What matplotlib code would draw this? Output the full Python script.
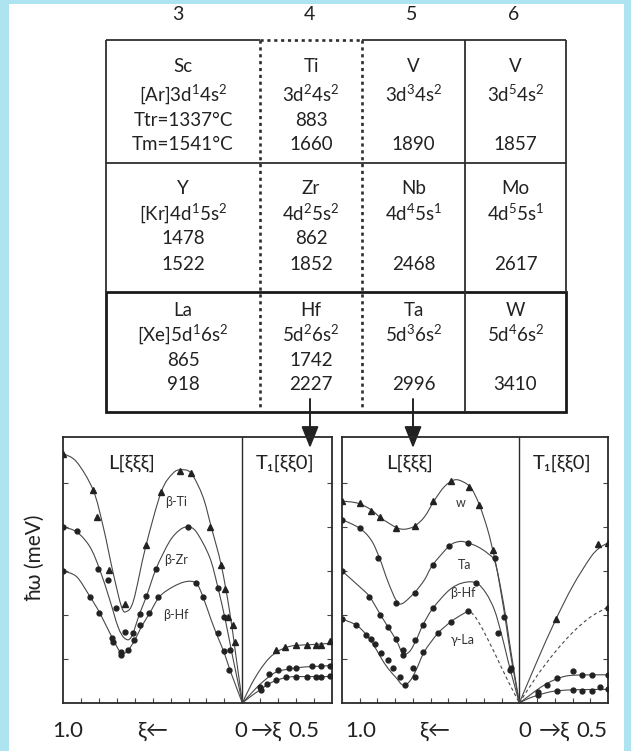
import numpy as np
import matplotlib
matplotlib.use("Agg")
import matplotlib.pyplot as plt
from matplotlib.path import Path
from matplotlib.patches import PathPatch, Rectangle

plt.rcParams['font.family'] = ['Lato', 'DejaVu Sans']
plt.rcParams['mathtext.fontset'] = 'custom'
plt.rcParams['mathtext.rm'] = 'Lato'
plt.rcParams['mathtext.it'] = 'Lato:italic'
plt.rcParams['mathtext.bf'] = 'Lato:bold'

# ---- table of group 3-6 transition metals ----
GROUPS = ['3', '4', '5', '6']
SYMBOLS = [['Sc', 'Ti', 'V', 'V'],
           ['Y', 'Zr', 'Nb', 'Mo'],
           ['La', 'Hf', 'Ta', 'W']]
CONFIGS = [['[Ar]3d$^1$4s$^2$', '3d$^2$4s$^2$', '3d$^3$4s$^2$', '3d$^5$4s$^2$'],
           ['[Kr]4d$^1$5s$^2$', '4d$^2$5s$^2$', '4d$^4$5s$^1$', '4d$^5$5s$^1$'],
           ['[Xe]5d$^1$6s$^2$', '5d$^2$6s$^2$', '5d$^3$6s$^2$', '5d$^4$6s$^2$']]
T_TRANS = [['Ttr=1337°C', '883', '', ''],
           ['1478', '862', '', ''],
           ['865', '1742', '', '']]
T_MELT = [['Tm=1541°C', '1660', '1890', '1857'],
          ['1522', '1852', '2468', '2617'],
          ['918', '2227', '2996', '3410']]

# ---- L[xxx] branches, left panel (beta-Ti, beta-Zr, beta-Hf) ----
TI_XI = [1.0, 0.924, 0.832, 0.776, 0.72, 0.674, 0.646, 0.606, 0.539, 0.452, 0.387, 0.341, 0.285, 0.22, 0.174, 0.118, 0.072, 0.035, 0.0]
TI_E = [5.67, 5.48, 4.84, 4.01, 2.95, 2.19, 2.08, 2.34, 3.55, 4.80, 5.22, 5.30, 5.22, 4.69, 4.01, 3.14, 2.11, 1.05, 0.0]
TI_PT_XI = [1.0, 0.832, 0.813, 0.743, 0.656, 0.539, 0.452, 0.35, 0.285, 0.183, 0.118, 0.096, 0.081, 0.054, 0.041]
TI_PT_E = [5.67, 4.84, 4.23, 3.02, 2.26, 3.59, 4.80, 5.28, 5.22, 4.01, 3.14, 2.59, 1.96, 1.77, 1.39]

ZR_XI = [1.0, 0.924, 0.85, 0.794, 0.739, 0.693, 0.656, 0.619, 0.572, 0.535, 0.48, 0.406, 0.35, 0.304, 0.257, 0.183, 0.137, 0.091, 0.054, 0.0]
ZR_E = [4.0, 3.89, 3.55, 3.02, 2.34, 1.73, 1.47, 1.5, 2.04, 2.42, 3.06, 3.67, 3.93, 4.0, 3.89, 3.32, 2.64, 1.81, 1.05, 0.0]
ZR_PT_XI = [1.0, 0.924, 0.804, 0.748, 0.702, 0.656, 0.61, 0.572, 0.535, 0.48, 0.304, 0.137, 0.1, 0.067]
ZR_PT_E = [4.0, 3.91, 3.04, 2.80, 2.15, 1.62, 1.6, 2.02, 2.43, 3.04, 4.0, 2.62, 1.95, 1.2]

HF_XI = [1.0, 0.924, 0.85, 0.794, 0.724, 0.674, 0.637, 0.6, 0.563, 0.517, 0.461, 0.387, 0.313, 0.257, 0.22, 0.174, 0.137, 0.1, 0.069, 0.0]
HF_E = [3.0, 2.87, 2.42, 2.04, 1.47, 1.13, 1.2, 1.43, 1.73, 2.04, 2.42, 2.64, 2.76, 2.72, 2.42, 1.89, 1.5, 1.13, 0.75, 0.0]
HF_PT_XI = [1.0, 0.85, 0.8, 0.724, 0.72, 0.674, 0.674, 0.637, 0.606, 0.569, 0.522, 0.471, 0.257, 0.22, 0.137, 0.1, 0.072]
HF_PT_E = [3.0, 2.42, 2.04, 1.47, 1.39, 1.09, 1.17, 1.2, 1.43, 1.77, 2.04, 2.42, 2.73, 2.42, 1.58, 1.19, 0.75]

# ---- T1[xx0] branches, left panel ----
TL1_XI = [0.0, 0.05, 0.1, 0.15, 0.2, 0.25, 0.3, 0.4, 0.5]
TL1_E = [0.0, 0.42, 0.76, 1.02, 1.18, 1.27, 1.31, 1.33, 1.36]
TL1_PT_XI = [0.19, 0.24, 0.3, 0.36, 0.41, 0.44, 0.49]
TL1_PT_E = [1.2, 1.27, 1.31, 1.32, 1.32, 1.32, 1.4]
TL2_XI = [0.0, 0.05, 0.1, 0.15, 0.2, 0.3, 0.4, 0.5]
TL2_E = [0.0, 0.22, 0.43, 0.6, 0.72, 0.8, 0.83, 0.85]
TL2_PT_XI = [0.096, 0.15, 0.2, 0.26, 0.3, 0.39, 0.44, 0.49]
TL2_PT_E = [0.37, 0.66, 0.76, 0.8, 0.8, 0.84, 0.84, 0.85]
TL3_XI = [0.0, 0.05, 0.1, 0.15, 0.2, 0.25, 0.3, 0.5]
TL3_E = [0.0, 0.16, 0.3, 0.44, 0.53, 0.58, 0.6, 0.6]
TL3_PT_XI = [0.106, 0.135, 0.19, 0.245, 0.3, 0.36, 0.41, 0.44, 0.49]
TL3_PT_E = [0.29, 0.44, 0.53, 0.59, 0.59, 0.59, 0.6, 0.6, 0.62]

# ---- L[xxx] branches, right panel (W, Ta, beta-Hf, gamma-La) ----
W_XI = [1.0, 0.91, 0.835, 0.779, 0.694, 0.647, 0.591, 0.535, 0.478, 0.422, 0.366, 0.319, 0.271, 0.225, 0.178, 0.14, 0.103, 0.074, 0.046, 0.0]
W_E = [4.59, 4.54, 4.39, 4.2, 3.99, 3.95, 4.02, 4.23, 4.61, 4.92, 5.07, 5.03, 4.88, 4.5, 3.93, 3.3, 2.57, 1.89, 1.13, 0.0]
W_PT_XI = [1.0, 0.9, 0.839, 0.788, 0.694, 0.591, 0.488, 0.388, 0.286, 0.225, 0.15]
W_PT_E = [4.59, 4.54, 4.37, 4.23, 3.97, 4.02, 4.58, 5.05, 4.92, 4.49, 3.48]

TA_XI = [1.0, 0.9, 0.835, 0.788, 0.741, 0.694, 0.66, 0.591, 0.535, 0.488, 0.394, 0.337, 0.29, 0.234, 0.178, 0.137, 0.103, 0.074, 0.046, 0.0]
TA_E = [4.17, 3.97, 3.70, 3.29, 2.76, 2.33, 2.26, 2.51, 2.8, 3.14, 3.57, 3.67, 3.64, 3.55, 3.4, 3.2, 2.5, 1.77, 1.02, 0.0]
TA_PT_XI = [1.0, 0.9, 0.797, 0.694, 0.591, 0.488, 0.394, 0.29, 0.137, 0.089]
TA_PT_E = [4.17, 3.97, 3.29, 2.27, 2.51, 3.14, 3.57, 3.64, 3.29, 1.95]

HFR_XI = [1.0, 0.9, 0.845, 0.788, 0.741, 0.694, 0.657, 0.619, 0.582, 0.544, 0.488, 0.394, 0.319, 0.243, 0.187, 0.14, 0.103, 0.074, 0.046, 0.0]
HFR_E = [3.0, 2.64, 2.42, 2.04, 1.73, 1.43, 1.13, 1.17, 1.43, 1.77, 2.15, 2.57, 2.73, 2.73, 2.49, 2.11, 1.60, 1.13, 0.68, 0.0]
HFR_PT_XI = [1.0, 0.845, 0.788, 0.741, 0.694, 0.657, 0.657, 0.591, 0.544, 0.488, 0.243, 0.121, 0.055, 0.046]
HFR_PT_E = [3.0, 2.42, 2.0, 1.73, 1.45, 1.2, 1.09, 1.43, 1.77, 2.15, 2.73, 1.6, 0.75, 0.79]

LA_XI = [1.0, 0.919, 0.863, 0.816, 0.779, 0.741, 0.694, 0.657, 0.619, 0.582, 0.535, 0.46, 0.385, 0.328, 0.29, 0.271]
LA_E = [1.91, 1.77, 1.55, 1.28, 1.02, 0.79, 0.57, 0.41, 0.49, 0.75, 1.17, 1.58, 1.85, 2.0, 2.08, 2.06]
LA_DASH_XI = [0.271, 0.234, 0.178, 0.121, 0.065, 0.0]
LA_DASH_E = [2.06, 1.87, 1.45, 0.98, 0.51, 0.0]
LA_PT_XI = [1.0, 0.919, 0.863, 0.835, 0.816, 0.779, 0.741, 0.713, 0.675, 0.647, 0.6, 0.587, 0.544, 0.46, 0.385, 0.29]
LA_PT_E = [1.91, 1.77, 1.55, 1.45, 1.34, 1.13, 0.98, 0.79, 0.6, 0.41, 0.79, 0.6, 1.17, 1.58, 1.85, 2.08]

# ---- T1[xx0] branches, right panel ----
TR1_XI = [0.0, 0.1, 0.2, 0.3, 0.4, 0.45, 0.5]
TR1_E = [0.0, 0.95, 1.85, 2.65, 3.3, 3.52, 3.64]
TR1_PT_XI = [0.208, 0.446, 0.5]
TR1_PT_E = [1.92, 3.61, 3.64]
TR_DASH_XI = [0.0, 0.1, 0.2, 0.3, 0.4, 0.5]
TR_DASH_E = [0.0, 0.62, 1.15, 1.6, 1.95, 2.18]
TR_DASH_PT_XI = [0.5]
TR_DASH_PT_E = [2.17]
TR2_XI = [0.0, 0.05, 0.1, 0.15, 0.2, 0.25, 0.3, 0.4, 0.5]
TR2_E = [0.0, 0.15, 0.3, 0.43, 0.53, 0.6, 0.63, 0.64, 0.64]
TR2_PT_XI = [0.107, 0.156, 0.21, 0.305, 0.352, 0.408, 0.5]
TR2_PT_E = [0.26, 0.41, 0.56, 0.73, 0.64, 0.64, 0.64]
TR3_XI = [0.0, 0.05, 0.1, 0.15, 0.2, 0.3, 0.5]
TR3_E = [0.0, 0.1, 0.17, 0.23, 0.27, 0.3, 0.31]
TR3_PT_XI = [0.107, 0.21, 0.305, 0.352, 0.408, 0.455, 0.5]
TR3_PT_E = [0.18, 0.28, 0.3, 0.28, 0.28, 0.37, 0.31]

INK = '#222222'
LINE = '#484848'


def smooth(x, y):
    """Catmull-Rom curve through the points, as a bezier path."""
    p = np.column_stack([x, y]).astype(float)
    verts, codes = [p[0]], [Path.MOVETO]
    n = len(p)
    for i in range(n - 1):
        p0 = p[i - 1] if i > 0 else p[i]
        p3 = p[i + 2] if i + 2 < n else p[i + 1]
        verts += [p[i] + (p[i + 1] - p0) / 6, p[i + 1] - (p3 - p[i]) / 6, p[i + 1]]
        codes += [Path.CURVE4] * 3
    return Path(verts, codes)


def branch(ax, xi, e, side, ls='-'):
    sgn = -1 if side == 'L' else 1
    ax.add_patch(PathPatch(smooth(sgn * np.array(xi), e), fill=False,
                           lw=0.8, ec=LINE, ls=ls, zorder=2))


def points(ax, xi, e, side, marker):
    sgn = -1 if side == 'L' else 1
    ms = 4.0 if marker == '^' else 3.5
    ax.plot(sgn * np.array(xi), e, ls='none', marker=marker, ms=ms,
            color=INK, zorder=3)


fig = plt.figure(figsize=(6.31, 7.51), dpi=100)
fig.patch.set_facecolor('#aee3f0')

# pixel-space canvas for the table, arrows and axis captions
bg = fig.add_axes([0, 0, 1, 1], zorder=0)
bg.set_xlim(0, 631)
bg.set_ylim(751, 0)
bg.axis('off')
bg.add_patch(Rectangle((9, 4), 615, 760, fc='white', ec='none'))

col_x = [106, 260, 362, 465, 566]
row_y = [40, 163, 292, 412]
thin = dict(color='#2e2e2e', lw=1.3, solid_capstyle='butt')
dash = dict(color='#2e2e2e', lw=1.9, ls=(0, (1.2, 1.4)))

bg.plot([col_x[0], col_x[1]], [row_y[0], row_y[0]], **thin)
bg.plot([col_x[1], col_x[2]], [row_y[0], row_y[0]], **dash)
bg.plot([col_x[2], col_x[4]], [row_y[0], row_y[0]], **thin)
bg.plot([col_x[0], col_x[4]], [row_y[1], row_y[1]], **thin)
bg.plot([col_x[0], col_x[0]], [row_y[0], row_y[2]], **thin)
bg.plot([col_x[4], col_x[4]], [row_y[0], row_y[2]], **thin)
bg.plot([col_x[3], col_x[3]], [row_y[0], row_y[3]], **thin)
for cx in col_x[1:3]:
    bg.plot([cx, cx], [row_y[0], row_y[3]], **dash)
bg.add_patch(Rectangle((col_x[0], row_y[2]), col_x[4] - col_x[0], row_y[3] - row_y[2],
                       fill=False, ec='#1a1a1a', lw=2.0))

for j, g in enumerate(GROUPS):
    cx = (col_x[j] + col_x[j + 1]) / 2 - (5 if j == 0 else 2)
    bg.text(cx, 15, g, ha='center', va='center', fontsize=14, color=INK)

line_y = [[67, 94, 120, 145], [189, 213, 239, 264], [310, 334, 360, 385]]
for i in range(3):
    for j in range(4):
        cx = (col_x[j] + col_x[j + 1]) / 2
        for txt, yy in zip([SYMBOLS[i][j], CONFIGS[i][j], T_TRANS[i][j], T_MELT[i][j]], line_y[i]):
            if txt:
                bg.text(cx, yy, txt, ha='center', va='center', fontsize=13.5, color=INK)

# arrows from Hf and Ta down into the dispersion panels
for ax_x in (310, 413):
    bg.annotate('', xy=(ax_x, 448), xytext=(ax_x, 399),
                arrowprops=dict(arrowstyle='-|>,head_length=0.6,head_width=0.24',
                                mutation_scale=22, color=INK, lw=1.4,
                                shrinkA=0, shrinkB=0))

bg.text(35, 558, 'ħω (meV)', rotation=90, ha='center', va='center', fontsize=15, color=INK)
for txt, xx in [('1.0', 68), ('ξ←', 153), ('0', 241), ('→ξ', 266), ('0.5', 304),
                ('1.0', 361), ('ξ←', 435), ('0', 525), ('→ξ', 554), ('0.5', 592)]:
    bg.text(xx, 731, txt, ha='center', va='center', fontsize=16, color=INK)

# ---- dispersion panels ----
H = 751.0
W_ = 631.0
axL = fig.add_axes([63 / W_, 1 - 703 / H, 269 / W_, 266 / H], zorder=1)
axR = fig.add_axes([342 / W_, 1 - 703 / H, 266 / W_, 266 / H], zorder=1)

for ax in (axL, axR):
    ax.set_facecolor('none')
    ax.set_xlim(-1.0, 0.5)
    ax.set_ylim(0, 266 / 44)
    ax.set_xticks(np.round(np.arange(-0.9, 0.45, 0.1), 2))
    ax.set_yticks([1, 2, 3, 4, 5])
    ax.tick_params(direction='in', length=3.5, width=0.8, color='#444',
                   labelbottom=False, labelleft=False, left=True, right=True)
    for s in ax.spines.values():
        s.set_linewidth(1.3)
        s.set_color('#2a2a2a')
    ax.axvline(0, color='#2a2a2a', lw=1.0, zorder=1)
    ax.text(-0.62, 5.45, 'L[ξξξ]', ha='center', va='center', fontsize=14.5, color=INK)
    ax.text(0.24, 5.45, 'T₁[ξξ0]', ha='center', va='center', fontsize=14.5, color=INK)

# left panel: group 4 metals
branch(axL, TI_XI, TI_E, 'L')
branch(axL, ZR_XI, ZR_E, 'L')
branch(axL, HF_XI, HF_E, 'L')
points(axL, TI_PT_XI, TI_PT_E, 'L', '^')
points(axL, ZR_PT_XI, ZR_PT_E, 'L', 'o')
points(axL, HF_PT_XI, HF_PT_E, 'L', 'o')
branch(axL, TL1_XI, TL1_E, 'T')
branch(axL, TL2_XI, TL2_E, 'T')
branch(axL, TL3_XI, TL3_E, 'T')
points(axL, TL1_PT_XI, TL1_PT_E, 'T', '^')
points(axL, TL2_PT_XI, TL2_PT_E, 'T', 'o')
points(axL, TL3_PT_XI, TL3_PT_E, 'T', 'o')
for txt, yy in [('β-Ti', 4.57), ('β-Zr', 3.25), ('β-Hf', 2.0)]:
    axL.text(-0.37, yy, txt, ha='center', va='center', fontsize=9, color='#333333')

# right panel: W, Ta, beta-Hf, gamma-La
branch(axR, W_XI, W_E, 'L')
branch(axR, TA_XI, TA_E, 'L')
branch(axR, HFR_XI, HFR_E, 'L')
branch(axR, LA_XI, LA_E, 'L')
branch(axR, LA_DASH_XI, LA_DASH_E, 'L', ls=(0, (3, 2.5)))
points(axR, W_PT_XI, W_PT_E, 'L', '^')
points(axR, TA_PT_XI, TA_PT_E, 'L', 'o')
points(axR, HFR_PT_XI, HFR_PT_E, 'L', 'o')
points(axR, LA_PT_XI, LA_PT_E, 'L', 'o')
branch(axR, TR1_XI, TR1_E, 'T')
branch(axR, TR_DASH_XI, TR_DASH_E, 'T', ls=(0, (3, 2.5)))
branch(axR, TR2_XI, TR2_E, 'T')
branch(axR, TR3_XI, TR3_E, 'T')
points(axR, TR1_PT_XI, TR1_PT_E, 'T', '^')
points(axR, TR_DASH_PT_XI, TR_DASH_PT_E, 'T', 'o')
points(axR, TR2_PT_XI, TR2_PT_E, 'T', 'o')
points(axR, TR3_PT_XI, TR3_PT_E, 'T', 'o')
for txt, xx, yy in [('w', -0.333, 4.55), ('Ta', -0.31, 3.14), ('β-Hf', -0.316, 2.5), ('γ-La', -0.32, 1.43)]:
    axR.text(xx, yy, txt, ha='center', va='center', fontsize=9, color='#333333')

fig.savefig('out.png', dpi=100, facecolor=fig.get_facecolor())
